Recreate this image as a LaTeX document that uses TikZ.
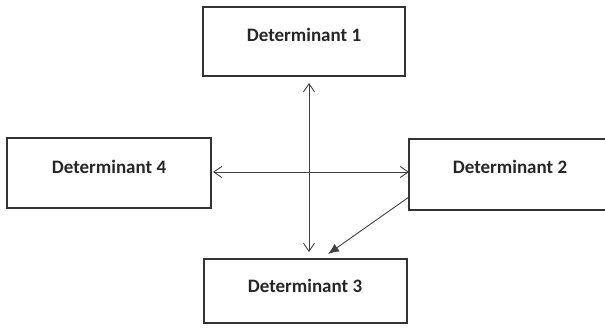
\documentclass[tikz,border=0pt]{standalone}
\usepackage{fontspec}
\setmainfont{Carlito}
\usetikzlibrary{arrows.meta}
\tikzset{
  openhead/.tip={Straight Barb[length=8pt,width=11pt,line width=0.9pt]},
  fillhead/.tip={Latex[length=11pt,width=9pt]}}
\begin{document}
\begin{tikzpicture}[x=1pt,y=-1pt,
  box/.style={draw=black!80,line width=1.2pt,inner sep=0pt},
  lbl/.style={font=\fontsize{19}{22}\selectfont\bfseries,text=black!85,anchor=center},
  conn/.style={line width=0.9pt,draw=black!75}]
\useasboundingbox (0,0) rectangle (605,327);
\node[box,minimum width=202pt,minimum height=69pt] (b1) at (304,41.5) {};
\node[box,minimum width=204pt,minimum height=70pt] (b4) at (109,173) {};
\node[box,minimum width=210pt,minimum height=71pt] (b2) at (514,174.5) {};
\node[box,minimum width=203pt,minimum height=64pt] (b3) at (305.5,291) {};
\node[lbl] (t1) at (304,35) {Determinant 1};
\node[lbl] (t4) at (109,167) {Determinant 4};
\node[lbl] (t2) at (510,167) {Determinant 2};
\node[lbl] (t3) at (305,286) {Determinant 3};
\coordinate (vtop) at (309,83);
\coordinate (vbot) at (309,252);
\coordinate (hl) at (213,172);
\coordinate (hr) at (409,172);
\coordinate (ds) at (409,197);
\coordinate (de) at (328,254);
\draw[conn,{openhead}-{openhead}] (vtop) -- (vbot);
\draw[conn,{openhead}-{openhead}] (hl) -- (hr);
\draw[conn,-{fillhead}] (ds) -- (de);
\end{tikzpicture}
\end{document}
